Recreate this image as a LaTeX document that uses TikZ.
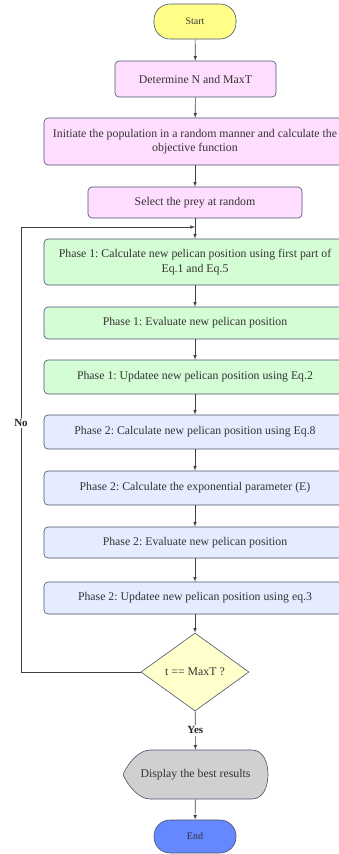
\documentclass[tikz,border=0pt]{standalone}
\usepackage{fontspec}
\setmainfont{Liberation Serif}
\usetikzlibrary{shapes.geometric}
\frenchspacing

\definecolor{edgecol}{HTML}{4A5070}
\definecolor{linecol}{HTML}{404040}
\definecolor{startcol}{HTML}{FFFF88}
\definecolor{pinkcol}{HTML}{FFDDFF}
\definecolor{greencol}{HTML}{D5FDD5}
\definecolor{bluecol}{HTML}{E5ECFF}
\definecolor{deccol}{HTML}{FFFFCC}
\definecolor{dispcol}{HTML}{D0D0D0}
\definecolor{endcol}{HTML}{6688FF}

\begin{document}
\begin{tikzpicture}[x=1pt, y=-1pt, >=latex, line width=0.6pt,
    box/.style={draw=edgecol, rounded corners=4pt, align=center, text=black!80,
        font=\fontsize{11.8}{14.5}\selectfont, inner sep=2pt},
    term/.style={draw=edgecol, rounded corners=16pt, minimum width=82pt,
        text=black!80, font=\fontsize{10}{11}\selectfont},
    lbl/.style={fill=white, inner sep=1.5pt, text=black!85, font=\fontsize{11}{12}\bfseries\selectfont},
    arr/.style={->, draw=linecol}]
    \useasboundingbox (0,0) rectangle (338,854);

    \node[term, fill=startcol, minimum height=35pt] (start) at (195,21.5) {Start};
    \node[box, fill=pinkcol, minimum width=161pt, minimum height=36pt] (det) at (195.5,79) {Determine N and MaxT};
    \node[box, fill=pinkcol, minimum width=302pt, minimum height=47pt] (init) at (195,141.5)
        {Initiate the population in a random manner and calculate the\\objective function};
    \node[box, fill=pinkcol, minimum width=214pt, minimum height=31pt] (sel) at (195,202.5) {Select the prey at random};

    \node[box, fill=greencol, minimum width=302pt, minimum height=46pt] (pa) at (195,262)
        {Phase 1: Calculate new pelican position using first part of\\Eq.1 and Eq.5};
    \node[box, fill=greencol, minimum width=302pt, minimum height=32pt] (pb) at (195,323) {Phase 1: Evaluate new pelican position};
    \node[box, fill=greencol, minimum width=302pt, minimum height=34pt] (pc) at (195,377) {Phase 1: Updatee new pelican position using Eq.2};

    \node[box, fill=bluecol, minimum width=302pt, minimum height=34pt] (qa) at (195,432) {Phase 2: Calculate new pelican position using Eq.8};
    \node[box, fill=bluecol, minimum width=302pt, minimum height=34pt] (qb) at (195,488) {Phase 2: Calculate the exponential parameter (E)};
    \node[box, fill=bluecol, minimum width=302pt, minimum height=31pt] (qc) at (195,542.5) {Phase 2: Evaluate new pelican position};
    \node[box, fill=bluecol, minimum width=302pt, minimum height=32pt] (qd) at (195,598) {Phase 2: Updatee new pelican position using eq.3};

    \node[diamond, draw=edgecol, fill=deccol, inner sep=0pt, minimum width=108pt, minimum height=78pt,
        text=black!80, font=\fontsize{11.8}{14}\selectfont] (dec) at (195,672) {t == MaxT ?};

    % display shape
    \draw[edgecol, fill=dispcol] (150,750) -- (252,750) .. controls (263,750) and (268,762) .. (268,774.5)
        .. controls (268,787) and (263,799) .. (252,799) -- (150,799)
        .. controls (138,799) and (127,784) .. (123,774.5) .. controls (127,765) and (138,750) .. (150,750);
    \node[minimum width=145pt, minimum height=49pt, text=black!80, font=\fontsize{11.8}{14}\selectfont] (disp) at (195.5,774.5) {Display the best results};

    \node[term, fill=endcol, minimum height=33pt] (end) at (195,836.5) {End};

    \draw[arr] (start) -- (det);
    \draw[arr] (det) -- (init);
    \draw[arr] (init) -- (sel);
    \draw[arr] (sel) -- (pa);
    \draw[arr] (pa) -- (pb);
    \draw[arr] (pb) -- (pc);
    \draw[arr] (pc) -- (qa);
    \draw[arr] (qa) -- (qb);
    \draw[arr] (qb) -- (qc);
    \draw[arr] (qc) -- (qd);
    \draw[arr] (qd) -- (dec);
    \draw[arr] (dec) -- (disp) node[midway, lbl] {Yes};
    \draw[arr] (disp) -- (end);

    % loop back
    \coordinate (lp) at (21,227);
    \coordinate (jn) at (195,227);
    \draw[arr] (dec.west) -- (dec.west -| lp) -- (lp) -- (jn);
    \node[lbl] (no) at (21,423) {No};
\end{tikzpicture}
\end{document}
